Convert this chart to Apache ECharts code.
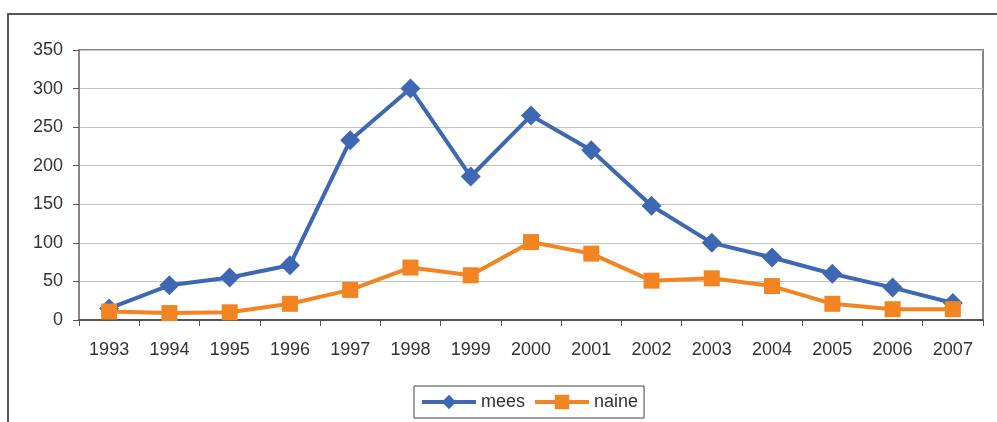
<!DOCTYPE html>
<html>
<head>
<meta charset="utf-8">
<script src="https://cdn.jsdelivr.net/npm/echarts@6/dist/echarts.min.js"></script>
<style>
  html, body { margin: 0; padding: 0; background: #fff; }
  #chart { width: 997px; height: 422px; }
</style>
</head>
<body>
<div id="chart"></div>
<script>
const years = ['1993', '1994', '1995', '1996', '1997', '1998', '1999', '2000',
  '2001', '2002', '2003', '2004', '2005', '2006', '2007']
const mees = [15, 45, 55, 71, 233, 300, 186, 265, 220, 148, 100, 81, 60, 42, 22]
const naine = [11, 9, 10, 21, 39, 68, 58, 101, 86, 51, 54, 44, 21, 14, 14]

const labelFont = { fontFamily: 'Liberation Sans, Arial, sans-serif', fontSize: 18, color: '#333' }
const frameColor = '#8c8482'

const chart = echarts.init(document.getElementById('chart'))
chart.setOption({
  animation: false,
  // outer chart-area frame (only top and left edges visible in the crop)
  graphic: [{
    type: 'rect',
    shape: { x: 8, y: 14, width: 1100, height: 600 },
    style: { fill: 'none', stroke: '#555', lineWidth: 2 },
    silent: true
  }],
  grid: {
    left: 79,
    right: 14,
    top: 50,
    bottom: 102,
    show: true,
    borderColor: frameColor,
    borderWidth: 2
  },
  legend: {
    left: 414,
    top: 386,
    itemWidth: 54,
    itemHeight: 18,
    itemGap: 8,
    padding: [7, 6, 7, 6],
    borderColor: '#444',
    borderWidth: 1,
    lineStyle: { width: 4 },
    textStyle: labelFont,
    data: ['mees', 'naine']
  },
  xAxis: {
    type: 'category',
    data: years,
    boundaryGap: true,
    axisLine: { lineStyle: { color: '#555', width: 2 } },
    axisTick: { show: true, length: 6, lineStyle: { color: '#555' } },
    axisLabel: Object.assign({ margin: 21 }, labelFont)
  },
  yAxis: {
    type: 'value',
    min: 0,
    max: 350,
    interval: 50,
    axisLine: { show: true, lineStyle: { color: frameColor, width: 2 } },
    axisTick: { show: true, length: 6, lineStyle: { color: '#555' } },
    axisLabel: Object.assign({ margin: 16 }, labelFont),
    splitLine: { lineStyle: { color: '#c9c2c2', width: 1 } }
  },
  series: [{
    name: 'mees',
    type: 'line',
    data: mees,
    symbol: 'diamond',
    symbolSize: 20,
    lineStyle: { color: '#3e68b3', width: 4 },
    itemStyle: { color: '#3e68b3' }
  }, {
    name: 'naine',
    type: 'line',
    data: naine,
    symbol: 'rect',
    symbolSize: 16,
    lineStyle: { color: '#f38422', width: 4 },
    itemStyle: { color: '#f38422' }
  }]
})
</script>
</body>
</html>
